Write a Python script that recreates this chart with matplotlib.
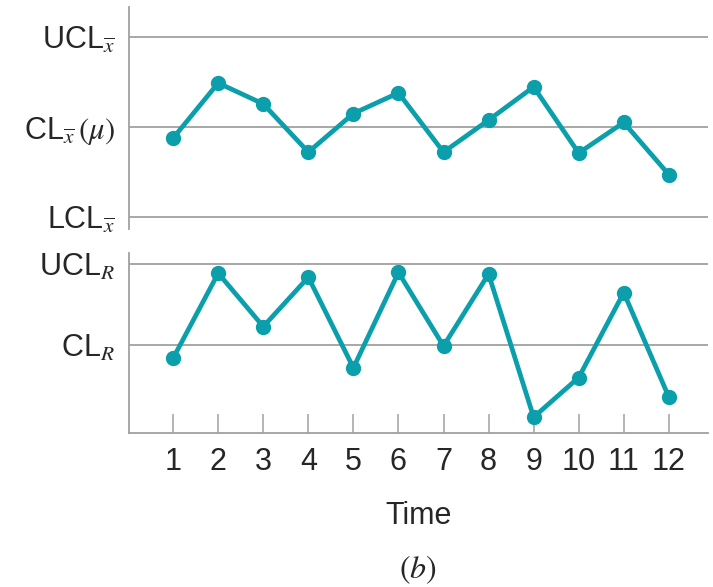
import matplotlib
matplotlib.use('Agg')
import matplotlib.pyplot as plt

plt.rcParams['font.family'] = ['Liberation Sans', 'DejaVu Sans']
plt.rcParams['mathtext.fontset'] = 'stix'

# sample number along the time axis
time = [1, 2, 3, 4, 5, 6, 7, 8, 9, 10, 11, 12]

# x-bar chart, in standard-error units about the centre line
xbar = [-0.37, 1.47, 0.77, -0.84, 0.45, 1.14, -0.84, 0.23, 1.34, -0.87, 0.15, -1.59]
xbar_limits = [3, 0, -3]
xbar_labels = [r'UCL$_{\overline{x}}$', r'CL$_{\overline{x}}\,(\mu)$', r'LCL$_{\overline{x}}$']

# R chart, relative to the mean range
ranges = [0.84, 1.89, 1.23, 1.84, 0.72, 1.90, 0.99, 1.88, 0.11, 0.60, 1.65, 0.36]
r_limits = [2, 1]
r_labels = [r'UCL$_{R}$', r'CL$_{R}$']

teal = '#0b9fab'
grey = '#a0a0a0'
ink = '#262626'
W, H = 713, 587

fig = plt.figure(figsize=(W / 100, H / 100), dpi=100)


def px_axes(left, top, right, bottom):
    return fig.add_axes([left / W, 1 - bottom / H, (right - left) / W, (bottom - top) / H])


ax1 = px_axes(129, 7, 708, 229)
ax2 = px_axes(129, 253, 708, 433)

for ax, vals, lims, labels in [(ax1, xbar, xbar_limits, xbar_labels),
                               (ax2, ranges, r_limits, r_labels)]:
    for y in lims:
        ax.axhline(y, color=grey, lw=1.3, zorder=1)
    ax.plot(time, vals, color=teal, lw=3.4, marker='o', ms=10, zorder=3)
    ax.set_xlim(0.02, 12.87)
    for s in ['top', 'right']:
        ax.spines[s].set_visible(False)
    ax.spines['left'].set_color(grey)
    ax.spines['left'].set_linewidth(1.3)
    ax.set_yticks(lims)
    ax.set_yticklabels(labels, fontsize=22, color=ink)
    ax.tick_params(axis='y', length=0, pad=10)

ax1.set_ylim(-3.41, 4.01)
ax1.spines['bottom'].set_visible(False)
ax1.set_xticks([])

ax2.set_ylim(-0.086, 2.14)
ax2.spines['bottom'].set_color(grey)
ax2.spines['bottom'].set_linewidth(1.3)
ax2.set_xticks(time)
ax2.set_xticklabels([str(t) for t in time], fontsize=22, color=ink)
ax2.tick_params(axis='x', direction='in', length=13.5, width=1.1, color=grey, pad=10)
ax2.set_xlabel('Time', fontsize=22, color=ink, labelpad=17)

fig.text(418 / W, 1 - 570 / H, r'$(b)$', fontsize=23, ha='center', va='center', color=ink)

fig.savefig('out.png', dpi=100)
plt.close()
